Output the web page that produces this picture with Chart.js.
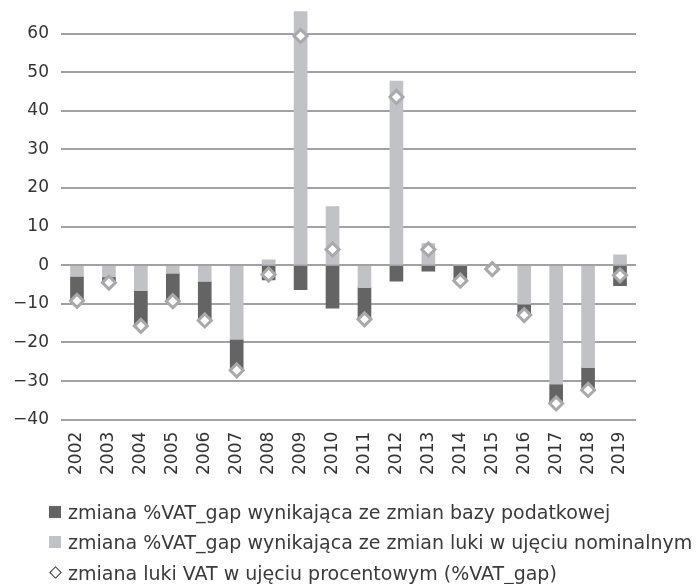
<!DOCTYPE html>
<html>
<head>
<meta charset="utf-8">
<script src="https://cdn.jsdelivr.net/npm/chart.js@4/dist/chart.umd.min.js"></script>
<style>
  html, body { margin: 0; padding: 0; background: #fff; }
  #wrap { position: relative; width: 700px; height: 584px; }
  #legend { position: absolute; left: 0; top: 0; font-family: "DejaVu Sans", sans-serif; font-size: 19px; color: #3a3a3a; }
  .row { position: absolute; left: 49px; white-space: nowrap; height: 24px; line-height: 24px; }
  .box { position: absolute; left: 0; top: 6px; width: 12px; height: 12px; }
  .dia { position: absolute; left: 2px; top: 7px; width: 7px; height: 7px; border: 1.8px solid #333; transform: rotate(45deg); }
  .txt { position: absolute; left: 19px; top: 0; }
</style>
</head>
<body>
<div id="wrap">
  <canvas id="chart" width="700" height="584"></canvas>
  <div id="legend"></div>
</div>
<script>
'use strict';

var years = ['2002', '2003', '2004', '2005', '2006', '2007', '2008', '2009', '2010',
             '2011', '2012', '2013', '2014', '2015', '2016', '2017', '2018', '2019'];

// change coming from the nominal gap (light bars)
var nominalChange = [-2.9, -3.0, -6.6, -2.1, -4.2, -19.2, 1.4, 65.7, 15.2,
                     -5.8, 47.7, 5.6, 0.2, -0.8, -10.1, -30.8, -26.5, 2.7];
// change coming from the tax base (dark bars)
var baseChange = [-6.3, -1.5, -9.1, -7.2, -10.1, -8.0, -3.8, -6.3, -11.1,
                  -8.2, -4.1, -1.5, -4.2, -0.2, -2.8, -5.0, -5.8, -5.3];
// %VAT_gap change (diamonds)
var gapChange = [-9.2, -4.5, -15.7, -9.3, -14.3, -27.2, -2.4, 59.4, 4.1,
                 -14.0, 43.6, 4.1, -4.0, -1.0, -12.9, -35.8, -32.3, -2.6];

var yTicks = [-40, -30, -20, -10, 0, 10, 20, 30, 40, 50, 60];

var legendItems = [
  { label: 'zmiana %VAT_gap wynikająca ze zmian bazy podatkowej', color: '#646464', kind: 'box' },
  { label: 'zmiana %VAT_gap wynikająca ze zmian luki w ujęciu nominalnym', color: '#c1c2c5', kind: 'box' },
  { label: 'zmiana luki VAT w ujęciu procentowym (%VAT_gap)', color: '#333', kind: 'dia' }
];

var DARK = '#646464', LIGHT = '#c1c2c5', GRID = '#a2a2a6';
var tickFont = { family: 'DejaVu Sans', size: 17 };

var noEdgePadding = function (scale) {
  scale.paddingTop = 0; scale.paddingBottom = 0;
  scale.paddingLeft = 0; scale.paddingRight = 0;
};

new Chart(document.querySelector('#chart'), {
  type: 'bar',
  data: {
    labels: years,
    datasets: [
      {
        type: 'line', label: legendItems[2].label, data: gapChange, stack: 'gap',
        showLine: false, pointStyle: 'rectRot', pointRadius: 6.5,
        pointBackgroundColor: '#ffffff', pointBorderColor: '#a9a9ac', pointBorderWidth: 3
      },
      {
        label: legendItems[1].label, data: nominalChange, stack: 'bars',
        backgroundColor: LIGHT, barThickness: 13
      },
      {
        label: legendItems[0].label, data: baseChange, stack: 'bars',
        backgroundColor: DARK, barThickness: 13
      }
    ]
  },
  options: {
    responsive: false,
    animation: false,
    devicePixelRatio: 1,
    layout: { padding: { left: 0, right: 64, top: 10.5, bottom: 104.3 } },
    plugins: { legend: { display: false }, tooltip: { enabled: false } },
    scales: {
      x: {
        stacked: true,
        grid: { display: false },
        border: { display: false },
        ticks: { color: '#333', font: tickFont, minRotation: 90, maxRotation: 90, padding: 4 },
        afterFit: function (scale) { scale.height = 60; noEdgePadding(scale); }
      },
      y: {
        stacked: true,
        min: -40, max: 66,
        border: { display: false },
        grid: { color: GRID, lineWidth: 2, drawTicks: false },
        ticks: {
          color: '#333', font: tickFont, padding: 12,
          callback: function (v) { return String(v).replace('-', '\u2212'); }
        },
        afterBuildTicks: function (scale) {
          scale.ticks = yTicks.map(function (v) { return { value: v }; });
        },
        afterFit: function (scale) { scale.width = 61; noEdgePadding(scale); }
      }
    }
  }
});

// legend rows under the axis
var legend = document.querySelector('#legend');
var rowTops = [500, 530, 561];
legendItems.forEach(function (item, i) {
  var row = document.createElement('div');
  row.className = 'row';
  row.style.top = rowTops[i] + 'px';
  var mark = document.createElement('span');
  mark.className = item.kind;
  if (item.kind === 'box') mark.style.background = item.color;
  var txt = document.createElement('span');
  txt.className = 'txt';
  txt.textContent = item.label;
  row.appendChild(mark);
  row.appendChild(txt);
  legend.appendChild(row);
});
</script>
</body>
</html>
